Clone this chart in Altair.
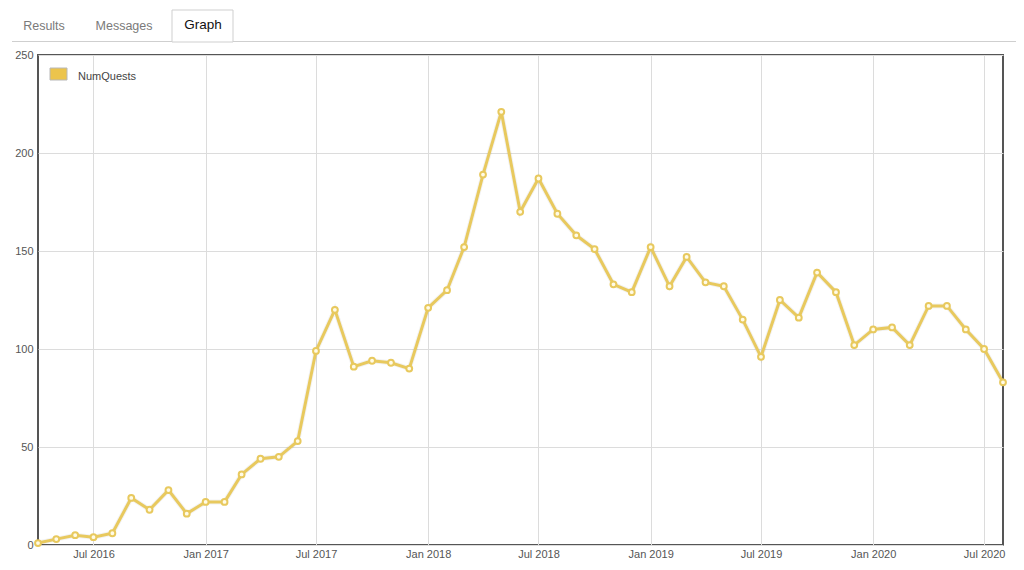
import altair as alt
import pandas as pd

# ---- data ----
months = pd.date_range("2016-04-01", "2020-08-01", freq="MS").strftime("%Y-%m-%d").tolist()
num_quests = [
    1, 3, 5, 4, 6, 24, 18, 28, 16,                      # Apr-Dec 2016
    22, 22, 36, 44, 45, 53, 99, 120, 91, 94, 93, 90,    # 2017
    121, 130, 152, 189, 221, 170, 187, 169, 158, 151, 133, 129,  # 2018
    152, 132, 147, 134, 132, 115, 96, 125, 116, 139, 129, 102,   # 2019
    110, 111, 102, 122, 122, 110, 100, 83,              # Jan-Aug 2020
]
series_name = "NumQuests"
tab_labels = ["Results", "Messages", "Graph"]
y_ticks = [0, 50, 100, 150, 200, 250]
x_ticks = ["2016-07-01", "2017-01-01", "2017-07-01", "2018-01-01", "2018-07-01",
           "2019-01-01", "2019-07-01", "2020-01-01", "2020-07-01"]

df = pd.DataFrame({"month": months, "value": num_quests})
one = pd.DataFrame({"k": [0]})

W, H = 965, 490
LINE = "#e8c95e"
GRID = "#dcdcdc"
LABEL = "#555555"

x_enc = alt.X(
    "month:T",
    scale=alt.Scale(domain=["2016-04-01", "2020-08-01"]),
    axis=alt.Axis(
        title=None,
        values=[alt.DateTime(year=int(d[:4]), month=int(d[5:7]), date=1) for d in x_ticks],
        format="%b %Y",
        labelColor=LABEL,
        labelFontSize=11,
        labelFont="Liberation Sans",
        labelPadding=3,
        ticks=False,
        domain=False,
        grid=True,
        gridColor=GRID,
        labelFlush=False,
    ),
)
y_enc = alt.Y(
    "value:Q",
    scale=alt.Scale(domain=[0, 250], nice=False),
    axis=alt.Axis(
        title=None,
        values=y_ticks,
        labelColor=LABEL,
        labelFontSize=11,
        labelFont="Liberation Sans",
        labelPadding=5,
        ticks=False,
        domain=False,
        grid=True,
        gridColor=GRID,
    ),
)

shadow = alt.Chart(df).mark_line(color="#000000", opacity=0.05, strokeWidth=5).encode(
    x=x_enc, y=y_enc
)
line = alt.Chart(df).mark_line(color=LINE, strokeWidth=3).encode(x=x_enc, y=y_enc)
pts = alt.Chart(df).mark_point(
    filled=True, fill="#fffbe6", stroke=LINE, strokeWidth=2, size=34, opacity=1
).encode(x=x_enc, y=y_enc)

# legend (manual, inside top-left)
leg_rect = alt.Chart(one).mark_rect(fill="#ecc44c", stroke="#b8b8b8", strokeWidth=1).encode(
    x=alt.value(12), x2=alt.value(29), y=alt.value(13), y2=alt.value(25)
)
leg_text = alt.Chart(one).mark_text(
    align="left", baseline="middle", fontSize=11, font="Liberation Sans", color="#444444"
).encode(x=alt.value(40), y=alt.value(22), text=alt.value(series_name))

# tabs above the plot
tab_box = alt.Chart(one).mark_rect(fill="white", stroke="#cfcfcf", strokeWidth=1).encode(
    x=alt.value(134), x2=alt.value(195), y=alt.value(-45), y2=alt.value(-13)
)
tab_line_l = alt.Chart(one).mark_rule(color="#cfcfcf", strokeWidth=1).encode(
    x=alt.value(-26), x2=alt.value(134), y=alt.value(-13.5)
)
tab_line_r = alt.Chart(one).mark_rule(color="#cfcfcf", strokeWidth=1).encode(
    x=alt.value(195), x2=alt.value(978), y=alt.value(-13.5)
)
tab_results = alt.Chart(one).mark_text(
    align="center", baseline="middle", fontSize=12.5, font="Liberation Sans", color="#7a7a7a"
).encode(x=alt.value(6), y=alt.value(-29), text=alt.value(tab_labels[0]))
tab_messages = alt.Chart(one).mark_text(
    align="center", baseline="middle", fontSize=12.5, font="Liberation Sans", color="#7a7a7a"
).encode(x=alt.value(86), y=alt.value(-29), text=alt.value(tab_labels[1]))
tab_graph = alt.Chart(one).mark_text(
    align="center", baseline="middle", fontSize=13.5, font="Liberation Sans", color="#111111"
).encode(x=alt.value(165), y=alt.value(-30), text=alt.value(tab_labels[2]))

chart = alt.layer(
    tab_box, tab_line_l, tab_line_r, tab_results, tab_messages, tab_graph,
    shadow, line, pts, leg_rect, leg_text,
).properties(
    width=W, height=H,
    padding={"left": 30, "top": 47, "right": 13, "bottom": 17},
    autosize=alt.AutoSizeParams(type="none"),
    background="white",
).configure_view(
    stroke="#555555", strokeWidth=2
)

chart.save("out.html", embed_options={"renderer": "svg", "actions": False})
